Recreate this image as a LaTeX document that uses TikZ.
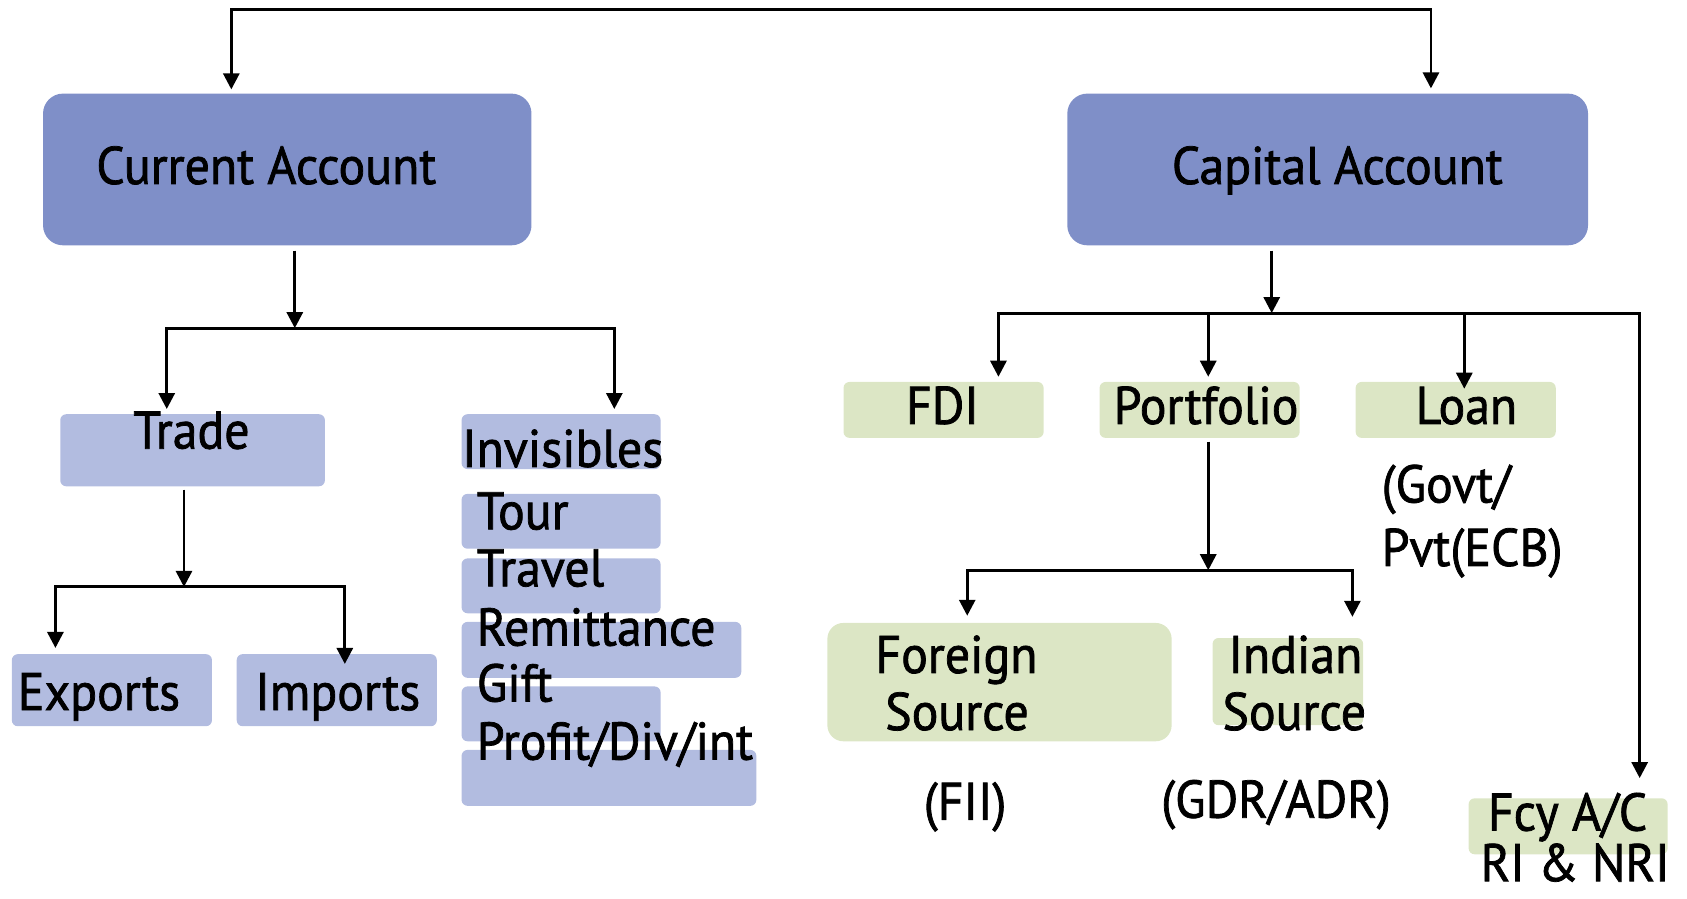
\documentclass[tikz,border=0pt]{standalone}
\usepackage{fontspec}
\setmainfont[FakeBold=1.4, FakeStretch=0.94]{PT Sans}
\usetikzlibrary{arrows.meta,fit}
\definecolor{acctblue}{RGB}{127,143,200}
\definecolor{itemblue}{RGB}{178,188,224}
\definecolor{itemgreen}{RGB}{220,230,197}
\tikzset{
  acct/.style={fill=acctblue, rounded corners=20pt, inner sep=0pt},
  bitem/.style={fill=itemblue, rounded corners=6pt, inner sep=0pt},
  gitem/.style={fill=itemgreen, rounded corners=6pt, inner sep=0pt},
  lbl/.style={font=\fontsize{53}{60}\selectfont, inner sep=0pt, anchor=base},
  lbll/.style={lbl, anchor=base west},
  wire/.style={line width=2.9pt, line cap=rect},
  arr/.style={line width=2.9pt, -{Triangle[length=16pt,width=16pt]}},
}
\begin{document}
\begin{tikzpicture}[x=1.0759pt,y=-1.0759pt]
\useasboundingbox (0,0) rectangle (1568,835);

% ---- boxes ----
\node[acct, fit={(40,87)(494,228)}] (cur) {};
\node[acct, fit={(992,87)(1476,228)}] (cap) {};

\node[bitem, fit={(56,385)(302,452)}] (trade) {};
\node[bitem, fit={(11,608)(197,675)}] (exports) {};
\node[bitem, fit={(220,608)(406,675)}] (imports) {};
\node[bitem, fit={(429,385)(614,436)}] (invis) {};
\node[bitem, fit={(429,459)(614,510)}] (tour) {};
\node[bitem, fit={(429,519)(614,570)}] (travel) {};
\node[bitem, fit={(429,578)(689,630)}] (remit) {};
\node[bitem, fit={(429,638)(614,689)}] (gift) {};
\node[bitem, fit={(429,697)(703,749)}] (profit) {};

\node[gitem, fit={(784,355)(970,407)}] (fdi) {};
\node[gitem, fit={(1022,355)(1208,407)}] (portfolio) {};
\node[gitem, fit={(1260,355)(1446,407)}] (loan) {};
\node[gitem, rounded corners=16pt, fit={(769,579)(1089,689)}] (foreign) {};
\node[gitem, fit={(1127,593)(1267,674)}] (indian) {};
\node[gitem, fit={(1365,742)(1550,794)}] (fcy) {};

% ---- connectors ----
\coordinate (tl) at (215,9);
\coordinate (tr) at (1330,9);
\draw[wire] (tl) -- (tr);
\draw[arr, shorten >=4pt] (tl) -- (tl |- cur.north);
\draw[arr, shorten >=5pt] (tr) -- (tr |- cap.north);

\coordinate (cj) at (274,305);
\coordinate (cl) at (155,305);
\coordinate (cr) at (571,305);
\draw[arr, shorten <=5pt] (cur.south -| cj) -- (cj);
\draw[wire] (cl) -- (cr);
\draw[arr, shorten >=5pt] (cl) -- (cl |- trade.north);
\draw[arr, shorten >=5pt] (cr) -- (cr |- invis.north);

\coordinate (tj) at (171,545.5);
\coordinate (tjl) at (51.5,545.5);
\coordinate (tjr) at (320.5,545.5);
\draw[arr, shorten <=3pt] (trade.south -| tj) -- (tj);
\draw[wire] (tjl) -- (tjr);
\draw[arr, shorten >=6pt] (tjl) -- (tjl |- exports.north);
\draw[arr, shorten >=-10pt] (tjr) -- (tjr |- imports.north);

\coordinate (kj) at (1182,291);
\coordinate (kl) at (928,291);
\coordinate (kp) at (1123,291);
\coordinate (kn) at (1361,291);
\coordinate (kr) at (1524,291);
\draw[arr, shorten <=5pt] (cap.south -| kj) -- (kj);
\draw[wire] (kl) -- (kr);
\draw[arr, shorten >=5pt] (kl) -- (kl |- fdi.north);
\draw[arr, shorten >=5pt] (kp) -- (kp |- portfolio.north);
\draw[arr, shorten >=-7pt] (kn) -- (kn |- loan.north);
\draw[arr, shorten >=20pt] (kr) -- (kr |- fcy.north);

\coordinate (pj) at (1123,530);
\coordinate (pl) at (899,530);
\coordinate (pr) at (1257,530);
\draw[arr, shorten <=3.5pt] (portfolio.south -| pj) -- (pj);
\draw[wire] (pl) -- (pr);
\draw[arr, shorten >=7pt] (pl) -- (pl |- foreign.north);
\draw[arr, shorten >=21pt] (pr) -- (pr |- indian.north);

% ---- labels ----
\node[lbl] (curT) at (247.5,171) {Current Account};
\node[lbl] (capT) at (1243,171) {Capital Account};
\node[lbl] (tradeT) at (178,417) {Trade};
\node[lbl] (exportsT) at (92,660) {Exports};
\node[lbl] (importsT) at (314,660) {Imports};
\node[lbl] (invisT) at (523,434) {Invisibles};
\node[lbll] (tourT) at (443,492) {Tour};
\node[lbll] (travelT) at (443,545) {Travel};
\node[lbll] (remitT) at (443,600) {Remittance};
\node[lbll] (giftT) at (443,652) {Gift};
\node[lbll] (profitT) at (443,706) {Profit/Div/int};
\node[lbl] (fdiT) at (876,394) {FDI};
\node[lbl] (portT) at (1121,394) {Portfolio};
\node[lbl] (loanT) at (1363,394) {Loan};
\node[lbll] (govtT) at (1284,467) {(Govt/};
\node[lbll] (pvtT) at (1284,526) {Pvt(ECB)};
\node[lbl] (foreignT) at (889,625.5) {Foreign};
\node[lbl] (fsrcT) at (889.5,678.5) {Source};
\node[lbl] (indianT) at (1204,625.5) {Indian};
\node[lbl] (isrcT) at (1203,678.5) {Source};
\node[lbl] (fiiT) at (897,762) {(FII)};
\node[lbl] (gdrT) at (1186,760) {(GDR/ADR)};
\node[lbl] (fcyT) at (1457,772) {Fcy A/C};
\node[lbl] (nriT) at (1464,819) {RI \& NRI};
\end{tikzpicture}
\end{document}
